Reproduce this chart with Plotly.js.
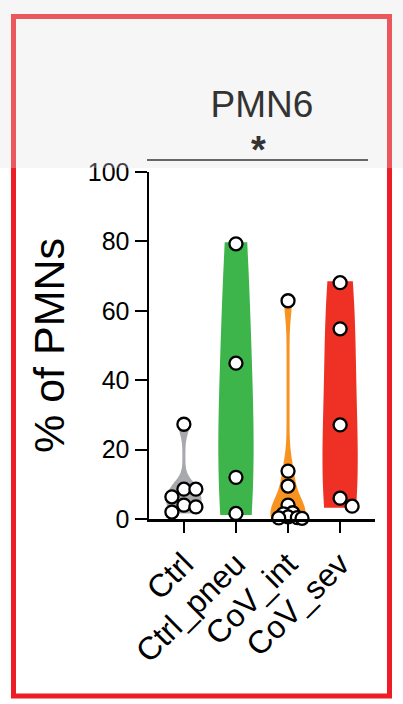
<!DOCTYPE html>
<html>
<head>
<meta charset="utf-8">
<script src="https://cdn.plot.ly/plotly-3.0.1.min.js"></script>
<style>html,body{margin:0;padding:0;background:#fff;}#chart{width:403px;height:704px;}</style>
</head>
<body>
<div id="chart"></div>
<script>
// ---- data ----
const categories = ["Ctrl", "Ctrl_pneu", "CoV_int", "CoV_sev"];
const ctrl      = [27.3, 8.6, 8.6, 6.4, 4.0, 3.5, 2.0];
const ctrlPneu  = [79.3, 44.9, 12.0, 1.6];
const covInt    = [62.9, 13.8, 9.5, 4.0, 1.8, 1.5, 0.6, 0.4, 0.3, 0.2];
const covSev    = [68.1, 54.8, 27.1, 6.0, 3.7];
const groups = [ctrl, ctrlPneu, covInt, covSev];
const colors = ["#a7a9ac", "#3db54a", "#f7931e", "#ee3124"];
const yTicks = [0, 20, 40, 60, 80, 100];

// ---- layout geometry (px) ----
const W = 403, H = 704;
const mL = 149, mR = 28, mT = 172, mB = 185;
const plotW = W - mL - mR, plotH = H - mT - mB;
const xRange = [-0.67, 3.67], yRange = [0, 100];
const pxPerX = plotW / (xRange[1] - xRange[0]);
const pxPerY = plotH / (yRange[1] - yRange[0]);

// simple beeswarm: place points (largest first) at centre or alternating offsets,
// then compress the group horizontally so it stays inside its column
function swarm(vals, idx) {
  const sorted = vals.slice().sort((a, b) => b - a);
  const placed = [];
  const step = 12, minDist = 11.5, maxHalf = 14;
  sorted.forEach(v => {
    const cands = [0, step, -step, 2 * step, -2 * step, 3 * step, -3 * step, 4 * step, -4 * step];
    for (const off of cands) {
      const ok = placed.every(p => {
        const dx = off - p.off, dy = (v - p.v) * pxPerY;
        return Math.sqrt(dx * dx + dy * dy) >= minDist;
      });
      if (ok) { placed.push({v: v, off: off}); break; }
    }
  });
  const maxOff = Math.max(...placed.map(p => Math.abs(p.off)));
  const k = maxOff > maxHalf ? maxHalf / maxOff : 1;
  return {x: placed.map(p => idx + p.off * k / pxPerX), y: placed.map(p => p.v)};
}

const traces = [];
groups.forEach((g, i) => {
  traces.push({
    type: "violin", x0: i, y: g, name: categories[i],
    points: false, spanmode: "hard", scalemode: "width", width: 0.62,
    fillcolor: colors[i], line: {color: colors[i], width: 3}, opacity: 1,
    box: {visible: false}, meanline: {visible: false}, hoverinfo: "y", showlegend: false
  });
});
groups.forEach((g, i) => {
  const s = swarm(g, i);
  traces.push({
    type: "scatter", mode: "markers", x: s.x, y: s.y, name: categories[i],
    marker: {size: 13, color: "#ffffff", line: {color: "#000000", width: 2.3}},
    cliponaxis: false, showlegend: false, hoverinfo: "y"
  });
});

const px2paperX = px => (px - mL) / plotW;
const px2paperY = py => (H - mB - py) / plotH;

const layout = {
  width: W, height: H,
  margin: {l: mL, r: mR, t: mT, b: mB, pad: 0},
  paper_bgcolor: "#ffffff", plot_bgcolor: "#ffffff",
  font: {family: "Liberation Sans, Arial, sans-serif", color: "#000"},
  showlegend: false,
  title: {text: "PMN6", font: {size: 37, color: "#333333"}, xref: "paper",
          x: px2paperX(262), xanchor: "center", yref: "container", y: 1 - 104 / H, yanchor: "middle"},
  xaxis: {
    type: "linear", range: xRange, tickmode: "array", tickvals: [0, 1, 2, 3], ticktext: categories,
    tickangle: -45, tickfont: {size: 32, color: "#000"}, ticks: "outside", ticklen: 11, tickwidth: 2,
    tickcolor: "#000", showline: true, linecolor: "#000", linewidth: 2.5, showgrid: false, zeroline: false,
    fixedrange: true
  },
  yaxis: {
    range: yRange, tickmode: "array", tickvals: yTicks, ticktext: yTicks.map(String),
    tickfont: {size: 25, color: "#000"}, ticks: "outside", ticklen: 12, tickwidth: 2, tickcolor: "#000",
    showline: true, linecolor: "#000", linewidth: 2.5, showgrid: false, zeroline: false,
    title: {text: "% of PMNs", font: {size: 43, color: "#000"}, standoff: 10},
    fixedrange: true
  },
  shapes: [
    // significance bar
    {type: "line", xref: "paper", yref: "paper", x0: px2paperX(147), x1: px2paperX(368),
     y0: px2paperY(160), y1: px2paperY(160), line: {color: "#333333", width: 2}},
    // red frame
    {type: "rect", xref: "paper", yref: "paper", x0: px2paperX(13.5), x1: px2paperX(389.5),
     y0: px2paperY(696), y1: px2paperY(16.5), line: {color: "#ee1c25", width: 5}, fillcolor: "rgba(0,0,0,0)"},
    // faint grey band at top
    {type: "rect", xref: "paper", yref: "paper", x0: px2paperX(0), x1: px2paperX(403),
     y0: px2paperY(168), y1: px2paperY(0), line: {width: 0}, fillcolor: "rgba(225,225,225,0.3)", layer: "above"}
  ],
  annotations: [
    {text: "<b>*</b>", xref: "paper", yref: "paper", x: px2paperX(258), y: px2paperY(160),
     xanchor: "center", yanchor: "bottom", showarrow: false, font: {size: 38, color: "#333333"}, yshift: -13}
  ]
};

Plotly.newPlot("chart", traces, layout, {displayModeBar: false, staticPlot: true});
</script>
</body>
</html>
